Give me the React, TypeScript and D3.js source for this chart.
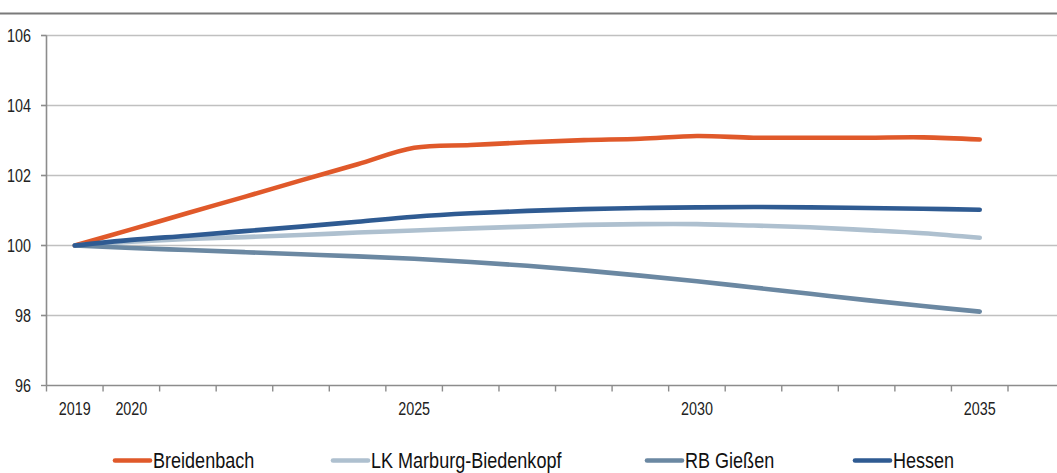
import { useEffect } from "react";
import * as d3 from "d3";

// Index 2019 = 100
const years = [
  "2019", "2020", "2021", "2022", "2023", "2024", "2025", "2026", "2027",
  "2028", "2029", "2030", "2031", "2032", "2033", "2034", "2035",
];
const yearLabels = ["2019", "2020", "2025", "2030", "2035"];
const yTicks = [96, 98, 100, 102, 104, 106];

const breidenbach = [
  100, 100.46, 100.93, 101.39, 101.86, 102.32, 102.79, 102.87, 102.95,
  103.01, 103.05, 103.13, 103.08, 103.08, 103.08, 103.09, 103.03,
];
const lkMarburg = [
  100, 100.11, 100.19, 100.24, 100.3, 100.37, 100.43, 100.49, 100.54,
  100.59, 100.61, 100.61, 100.57, 100.52, 100.44, 100.35, 100.22,
];
const rbGiessen = [
  100, 99.93, 99.87, 99.81, 99.75, 99.69, 99.62, 99.53, 99.42,
  99.29, 99.14, 98.98, 98.8, 98.62, 98.44, 98.27, 98.11,
];
const hessen = [
  100, 100.16, 100.28, 100.41, 100.54, 100.68, 100.82, 100.92, 100.99,
  101.04, 101.07, 101.09, 101.1, 101.09, 101.07, 101.05, 101.02,
];

const seriesNames = ["Breidenbach", "LK Marburg-Biedenkopf", "RB Gießen", "Hessen"];
const seriesValues = [breidenbach, lkMarburg, rbGiessen, hessen];
const seriesColors = ["#E0592A", "#AEC0CF", "#6B88A2", "#2F5B92"];

const W = 1057;
const H = 473;
const FONT = "'Liberation Sans', Arial, sans-serif";
const NARROW = 0.82; // no narrow font installed, squeeze horizontally

function NarrowText(props: {
  x: number;
  y: number;
  size: number;
  anchor?: "start" | "middle" | "end";
  dy?: string;
  fill?: string;
  children: string | number;
}) {
  return (
    <text
      transform={`translate(${props.x},${props.y}) scale(${NARROW},1)`}
      dy={props.dy}
      textAnchor={props.anchor ?? "start"}
      fontFamily={FONT}
      fontSize={props.size}
      fill={props.fill ?? "#222"}
    >
      {props.children}
    </text>
  );
}

export default function App() {
  useEffect(() => {
    document.body.style.margin = "0";
  }, []);

  const x = d3.scaleBand<string>().domain(years).range([46.5, 1008]).padding(0);
  const y = d3.scaleLinear().domain([96, 106]).range([385.5, 35.5]);
  const cx = (yr: string) => x(yr)! + x.bandwidth() / 2;

  const line = d3
    .line<number>()
    .x((_, i) => cx(years[i]))
    .y((d) => y(d))
    .curve(d3.curveCatmullRom.alpha(0.5));

  const boundaries = [...years.map((yr) => x(yr)!), x.range()[1]];
  const legendX = [115, 333, 647, 855];

  return (
    <svg width={W} height={H} style={{ display: "block", background: "#fff" }}>
      {/* cut-off title rule */}
      <line x1={0} x2={W} y1={13.5} y2={13.5} stroke="#7a7a7a" strokeWidth={2} />

      {/* grid */}
      {yTicks.map((t) => (
        <g key={t}>
          {t !== 96 && (
            <line x1={41} x2={W} y1={y(t)} y2={y(t)} stroke="#c0c0c0" strokeWidth={1.6} />
          )}
          <line x1={41} x2={46.5} y1={y(t)} y2={y(t)} stroke="#8c8c8c" strokeWidth={1.4} />
          <NarrowText x={31} y={y(t)} dy="0.36em" anchor="end" size={17.5}>
            {t}
          </NarrowText>
        </g>
      ))}

      {/* axes */}
      <line x1={46.5} x2={46.5} y1={y(106)} y2={y(96)} stroke="#8c8c8c" strokeWidth={1.6} />
      <line x1={46.5} x2={W} y1={y(96)} y2={y(96)} stroke="#8c8c8c" strokeWidth={1.6} />
      {boundaries.map((b, i) => (
        <line key={i} x1={b} x2={b} y1={y(96)} y2={y(96) + 6} stroke="#8c8c8c" strokeWidth={1.4} />
      ))}
      {yearLabels.map((yr) => (
        <NarrowText key={yr} x={cx(yr)} y={415} anchor="middle" size={17.5}>
          {yr}
        </NarrowText>
      ))}

      {/* series */}
      {seriesValues.map((vals, i) => (
        <path
          key={seriesNames[i]}
          d={line(vals) ?? ""}
          fill="none"
          stroke={seriesColors[i]}
          strokeWidth={4.6}
          strokeLinecap="round"
          strokeLinejoin="round"
        />
      ))}

      {/* legend */}
      {seriesNames.map((name, i) => (
        <g key={name}>
          <line
            x1={legendX[i]}
            x2={legendX[i] + 35}
            y1={460.5}
            y2={460.5}
            stroke={seriesColors[i]}
            strokeWidth={4.6}
            strokeLinecap="round"
          />
          <NarrowText x={legendX[i] + 38} y={468} size={22} fill="#111">
            {name}
          </NarrowText>
        </g>
      ))}
    </svg>
  );
}
